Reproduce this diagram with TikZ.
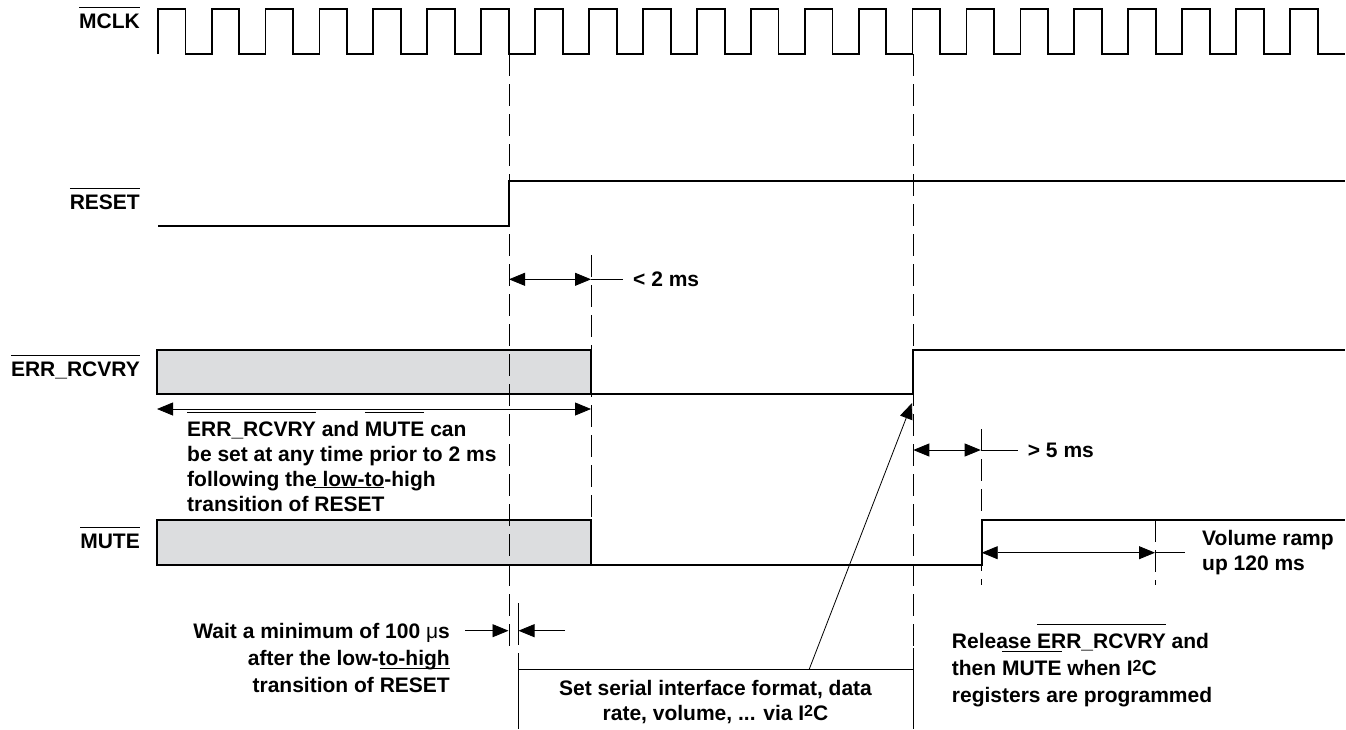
\documentclass[tikz,border=0pt]{standalone}
\usepackage{fontspec}
\setmainfont{Liberation Sans}
\usepackage{tikz}
\usetikzlibrary{arrows.meta, positioning}
\definecolor{boxgray}{RGB}{220,221,223}
\newsavebox{\ovlbox}
\newcommand{\ovln}[2][1.1em]{\sbox{\ovlbox}{#2}\rlap{\smash{\rule[#1]{\wd\ovlbox}{1.4pt}}}\usebox{\ovlbox}}
\newcommand{\itwoc}{I\raisebox{4pt}{\fontsize{16}{16}\selectfont 2}C}
\tikzset{
    wave/.style={line width=1.8pt},
    guide/.style={line width=0.8pt, dash pattern=on 22pt off 8pt},
    thinline/.style={line width=0.8pt},
    dim/.style={line width=0.8pt, -{Triangle[length=16pt,width=13pt]}},
    dimboth/.style={line width=0.8pt, {Triangle[length=16pt,width=13pt]}-{Triangle[length=16pt,width=13pt]}},
    sig/.style={anchor=base east, inner sep=0pt, font=\bfseries\fontsize{21}{25}\selectfont},
    note/.style={inner sep=0pt, font=\bfseries\fontsize{21}{25}\selectfont},
    widenote/.style={note, font=\bfseries\fontsize{21}{27}\selectfont}
}

\begin{document}
\begin{tikzpicture}[x=1pt, y=-1pt]
    \useasboundingbox (0,0) rectangle (1346,729);

    \node[sig] (lmclk) at (140,28) {\ovln[0.95em]{MCLK}};
    \node[sig] (lreset) at (140,209) {\ovln[0.95em]{RESET}};
    \node[sig] (lerr) at (140,376) {\ovln[0.95em]{ERR\_RCVRY}};
    \node[sig] (lmute) at (140,548) {\ovln[0.95em]{MUTE}};

    \draw[wave] (157.7,54) \foreach \k in {0,...,21}{
        -- ({157.7+53.92*\k},54) -- ({157.7+53.92*\k},9)
        -- ({185.4+53.92*\k},9) -- ({185.4+53.92*\k},54)} -- (1345,54);
    \draw[wave] (158,226) -- (509,226) -- (509,181) -- (1345,181);
    \draw[wave, fill=boxgray] (157,350) rectangle (591,394);
    \draw[wave] (591,394) -- (913,394) -- (913,350) -- (1345,350);
    \draw[wave, fill=boxgray] (157,520) rectangle (591,565);
    \draw[wave] (591,565) -- (981.7,565) -- (981.7,520) -- (1345,520);

    \coordinate (g1top) at (509,54);
    \coordinate (g1bot) at (509,648);
    \coordinate (g2top) at (591,255);
    \coordinate (g2bot) at (591,520);
    \coordinate (g3top) at (913,54);
    \coordinate (g3mid) at (913,648);
    \coordinate (g3bot) at (913,729);
    \coordinate (g4top) at (981.7,429);
    \coordinate (g4bot) at (981.7,585);
    \coordinate (g5top) at (1155,520);
    \coordinate (g5bot) at (1155,585);
    \draw[guide] (g1top) -- (g1bot);
    \draw[guide] (g2top) -- (g2bot);
    \draw[guide] (g3top) -- (g3mid);
    \draw[guide] (g4top) -- (g4bot);
    \draw[guide] (g5top) -- (g5bot);
    \draw[thinline] (g3mid) -- (g3bot);
    \draw[thinline] (518,603) -- (518,645);
    \draw[thinline] (518,653) -- (518,729);
    \coordinate (setl) at (518,669);
    \coordinate (setr) at (913,669);
    \draw[thinline] (setl) -- (setr);

    \coordinate (d2a) at (509,279.3);
    \coordinate (d2b) at (591,279.3);
    \draw[dimboth] (d2a) -- (d2b);
    \node[note, anchor=west] (t2ms) at ([xshift=42pt]d2b) {< 2 ms};
    \draw[thinline, shorten >=10pt] (d2b) -- (t2ms);

    \coordinate (anyl) at (157,409);
    \coordinate (anyr) at (591,409);
    \draw[dimboth] (anyl) -- (anyr);
    \node[note, anchor=base west, align=left] (tany) at (187,511)
        {\ovln{ERR\_RCVRY} and \ovln{MUTE} can\\be set at any time prior to 2 ms\\following the low-to-high\\transition of \ovln{RESET}};

    \coordinate (d5a) at (913.3,450);
    \coordinate (d5b) at (980.7,450);
    \draw[dimboth] (d5a) -- (d5b);
    \node[note, anchor=west] (t5ms) at ([xshift=47pt]d5b) {> 5 ms};
    \draw[thinline, shorten >=10pt] (d5b) -- (t5ms);

    \coordinate (rampa) at (981.7,552.7);
    \coordinate (rampb) at (1155,552.7);
    \draw[dimboth] (rampa) -- (rampb);
    \node[note, anchor=base west, align=left] (tramp) at (1202,570) {Volume ramp\\up 120 ms};
    \draw[thinline] (rampb) -- ++(30,0);

    \coordinate (w1) at (465,630.7);
    \coordinate (w2) at (508.5,630.7);
    \coordinate (w3) at (565,630.7);
    \coordinate (w4) at (518.5,630.7);
    \draw[dim] (w1) -- (w2);
    \draw[dim] (w3) -- (w4);
    \node[widenote, anchor=base east, align=right] (twait) at (450,692)
        {Wait a minimum of 100 {\mdseries μ}s\\after the low-to-high\\transition of \ovln{RESET}};

    \node[note, anchor=base, align=center] (tset) at (715.5,720)
        {Set serial interface format, data\\rate, volume, ... via \itwoc};
    \coordinate (setbar) at (809.3,669);
    \coordinate (errup) at (912,403);
    \draw[dim] (setbar) -- (errup);

    \node[widenote, anchor=base west, align=left] (trel) at (951.7,702)
        {Release \ovln{ERR\_RCVRY} and\\then \ovln{MUTE} when \itwoc\\registers are programmed};
\end{tikzpicture}
\end{document}
